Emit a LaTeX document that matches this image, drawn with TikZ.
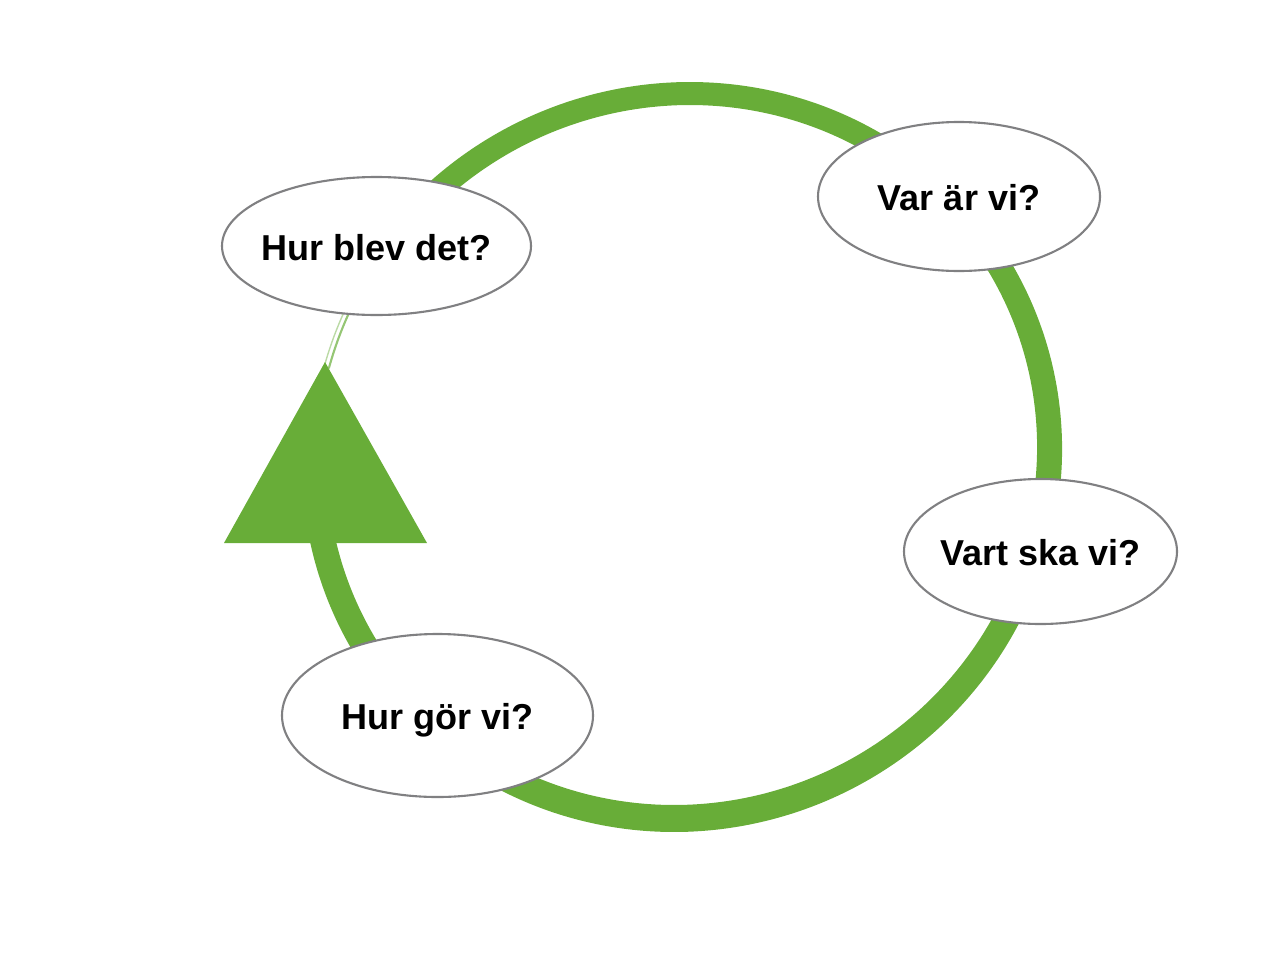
\documentclass[tikz,border=0pt]{standalone}
\usepackage{fontspec}
\setmainfont{Liberation Sans}
\usetikzlibrary{shapes.geometric}
\definecolor{ringgreen}{RGB}{104,173,56}
\definecolor{edgegray}{RGB}{128,128,130}
\tikzset{
  bubble/.style={ellipse, draw=edgegray, line width=1.2pt, fill=white, inner sep=0pt},
  lbl/.style={anchor=base, inner sep=0pt, font=\fontsize{20.5}{24}\selectfont\bfseries},
  faint/.style={draw=ringgreen!70, line width=1.2pt}
}
\begin{document}
\begin{tikzpicture}[x=0.02cm,y=-0.02cm]
\useasboundingbox (0,0) rectangle (1280,960);
% ring (hand-drawn band)
\fill[ringgreen] plot[domain=170:-150, samples=200, smooth] ({682-8*sin(\x)+380*cos(\x)},{457+375*sin(\x)})
  -- plot[domain=-150:170, samples=200, smooth] ({682-8*sin(\x)+355*cos(\x)},{455+350*sin(\x)}) -- cycle;
% thin faint part up to the arrow
\coordinate (apex) at (325,362);
\draw[faint] plot[domain=-150:-166, samples=30, smooth] ({682-8*sin(\x)+366*cos(\x)},{456+362*sin(\x)});
\draw[draw=ringgreen!45, line width=0.8pt] plot[domain=-150:-166, samples=30, smooth] ({682-8*sin(\x)+371*cos(\x)},{456+366*sin(\x)});
% arrow head
\coordinate (bl) at (224,543);
\coordinate (br) at (427,543);
\fill[ringgreen] (apex) -- (br) -- (bl) -- cycle;
% bubbles
\node[bubble, minimum width=309*0.02cm, minimum height=138*0.02cm] (blev) at (376.5,246) {};
\node[bubble, minimum width=282*0.02cm, minimum height=149*0.02cm] (var) at (959,196.5) {};
\node[bubble, minimum width=273*0.02cm, minimum height=145*0.02cm] (vart) at (1040.5,551.5) {};
\node[bubble, minimum width=311*0.02cm, minimum height=163*0.02cm] (gor) at (437.5,715.5) {};
\node[lbl] (tblev) at ([yshift=-14*0.02cm]blev.center) {Hur blev det?};
\node[lbl] (tvar) at ([yshift=-14*0.02cm]var.center) {Var är vi?};
\node[lbl] (tvart) at ([yshift=-14*0.02cm]vart.center) {Vart ska vi?};
\node[lbl] (tgor) at ([yshift=-14*0.02cm]gor.center) {Hur gör vi?};
\end{tikzpicture}
\end{document}
